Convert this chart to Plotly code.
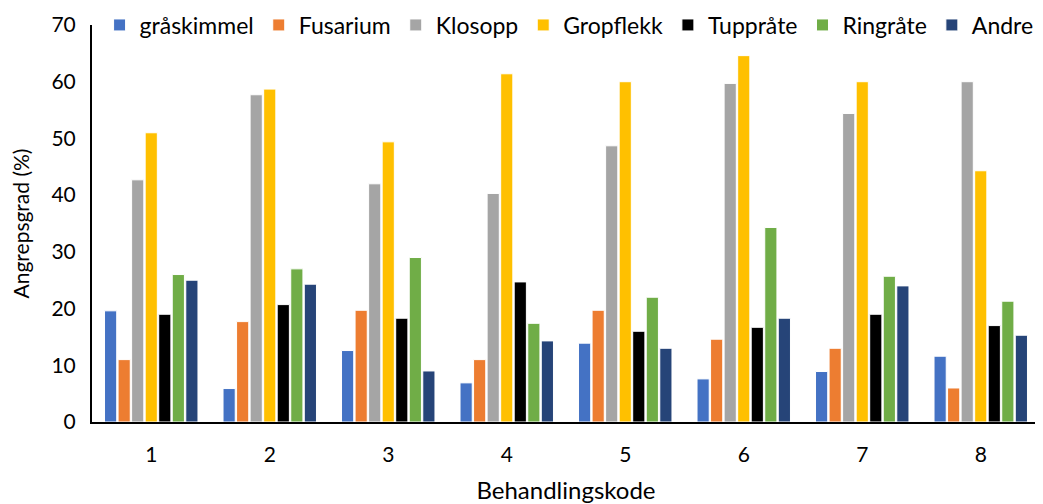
import plotly.graph_objects as go

categories = ["1", "2", "3", "4", "5", "6", "7", "8"]
series_names = ["gråskimmel", "Fusarium", "Klosopp", "Gropflekk", "Tuppråte", "Ringråte", "Andre"]
graskimmel = [19.6, 5.9, 12.6, 6.9, 13.9, 7.6, 8.9, 11.6]
fusarium = [11.0, 17.7, 19.7, 11.0, 19.7, 14.6, 13.0, 6.0]
klosopp = [42.7, 57.7, 42.0, 40.3, 48.7, 59.7, 54.4, 60.0]
gropflekk = [51.0, 58.7, 49.4, 61.4, 60.0, 64.6, 60.0, 44.3]
tupprate = [19.0, 20.7, 18.3, 24.7, 16.0, 16.7, 19.0, 17.0]
ringrate = [26.0, 27.0, 29.0, 17.4, 22.0, 34.3, 25.7, 21.3]
andre = [25.0, 24.3, 9.0, 14.3, 13.0, 18.3, 24.0, 15.3]

values = [graskimmel, fusarium, klosopp, gropflekk, tupprate, ringrate, andre]
colors = ["#4472C4", "#ED7D31", "#A5A5A5", "#FFC000", "#000000", "#70AD47", "#264478"]

font_family = "Lato, 'Open Sans', sans-serif"

# page body has an 8px margin; figure is shifted by 8px in the window
W, H = 1043, 496

fig = go.Figure()
for name, vals, col in zip(series_names, values, colors):
    fig.add_trace(go.Bar(
        x=categories, y=vals, name=name,
        marker=dict(color=col, line=dict(color="white", width=1)),
    ))

fig.update_layout(
    width=W, height=H,
    margin=dict(l=84, r=11, t=17, b=82, autoexpand=False),
    plot_bgcolor="white", paper_bgcolor="white",
    barmode="group", bargap=0.2, bargroupgap=0.1,
    font=dict(family=font_family, size=21, color="#000000"),
    legend=dict(
        orientation="h", x=0.008, xanchor="left",
        yref="container", y=1 - 17 / H, yanchor="middle",
        bgcolor="rgba(0,0,0,0)", font=dict(size=23), itemwidth=30,
        traceorder="normal",
    ),
    showlegend=True,
)
fig.update_xaxes(
    showline=True, linecolor="black", linewidth=2, ticks="", showgrid=False,
    ticklabelstandoff=13, automargin=False,
    title=dict(text="Behandlingskode", standoff=17, font=dict(size=24)),
)
fig.update_yaxes(
    range=[0, 70], dtick=10, showline=True, linecolor="black", linewidth=2,
    ticks="", showgrid=False, zeroline=False, ticklabelstandoff=10,
    automargin=False,
    title=dict(text="Angrepsgrad (%)", standoff=18, font=dict(size=21)),
)

fig.write_html("out.html")
